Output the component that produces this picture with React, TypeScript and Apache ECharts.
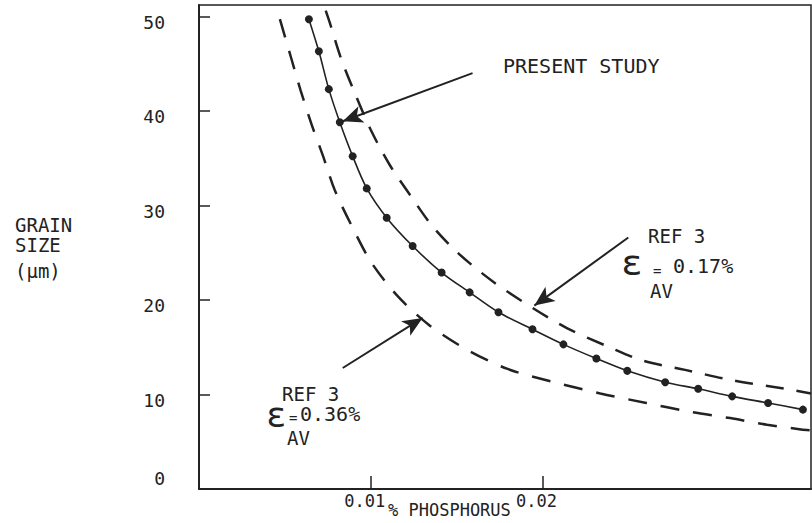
import { useEffect, useRef } from "react";
import * as echarts from "echarts";

const FONT = "DejaVu Sans Mono";
const INK = "#222";

// Axis ticks
const yTicks = [0, 10, 20, 30, 40, 50];
const xTicks = [0.01, 0.02];
const xMax = 0.03564;
const yMax = 51.2;

// PRESENT STUDY (solid line with dots): [% phosphorus, grain size µm]
const presentStudy: [number, number][] = [
  [0.0064, 49.7], [0.00698, 46.3], [0.00756, 42.3], [0.0082, 38.8],
  [0.00895, 35.2], [0.00977, 31.8], [0.01093, 28.7], [0.01244, 25.7],
  [0.01413, 22.9], [0.01576, 20.8], [0.01744, 18.7], [0.01942, 16.9],
  [0.02122, 15.3], [0.02314, 13.8], [0.02494, 12.5], [0.02715, 11.3],
  [0.02907, 10.6], [0.03105, 9.8], [0.03314, 9.1], [0.03517, 8.4],
];

// REF 3, eps_AV = 0.17% (upper dashed)
const ref3Eps017: [number, number][] = [
  [0.00738, 50.6], [0.00762, 49.3], [0.00826, 45.6], [0.00907, 41.9],
  [0.01, 38.0], [0.0111, 34.3], [0.01233, 31.0], [0.01355, 27.9],
  [0.01506, 25.0], [0.01715, 21.9], [0.01948, 19.1], [0.02145, 17.0],
  [0.0239, 15.0], [0.02581, 13.6], [0.02831, 12.6], [0.03105, 11.5],
  [0.03413, 10.6], [0.03564, 10.1],
];

// REF 3, eps_AV = 0.36% (lower dashed)
const ref3Eps036: [number, number][] = [
  [0.00471, 49.7], [0.00535, 45.7], [0.00593, 42.1], [0.00657, 38.5],
  [0.00721, 35.3], [0.00791, 31.6], [0.00907, 27.2], [0.01006, 23.9],
  [0.01157, 20.4], [0.01343, 17.3], [0.01564, 14.7], [0.01797, 12.7],
  [0.02047, 11.4], [0.02337, 10.1], [0.02605, 9.1], [0.02849, 8.2],
  [0.03093, 7.5], [0.03308, 6.8], [0.03506, 6.3], [0.03564, 6.2],
];

// Annotation arrows: [from, to] in data coordinates
const arrowPresent: [[number, number], [number, number]] = [[0.01593, 44.0], [0.00837, 38.9]];
const arrowRef017: [[number, number], [number, number]] = [[0.025, 26.6], [0.01953, 19.4]];
const arrowRef036: [[number, number], [number, number]] = [[0.00837, 12.8], [0.01302, 18.1]];
const arrowList = [arrowPresent, arrowRef017, arrowRef036];

function txt(text: string, x: number, y: number, size: number) {
  return {
    type: "text",
    x,
    y,
    silent: true,
    style: {
      text,
      fill: INK,
      fontFamily: FONT,
      fontSize: size,
      align: "left",
      verticalAlign: "middle",
    },
  };
}

export default function App() {
  const ref = useRef<HTMLDivElement>(null);

  useEffect(() => {
    if (!ref.current) return;
    const chart = echarts.init(ref.current, undefined, { renderer: "svg" });
    chart.setOption({
      animation: false,
      backgroundColor: "#fff",
      grid: {
        left: 199,
        right: 1,
        top: 5,
        bottom: 34,
        show: true,
        borderColor: INK,
        borderWidth: 1.5,
      },
      xAxis: {
        type: "value",
        min: 0,
        max: xMax,
        axisLine: { show: true, lineStyle: { color: INK, width: 2 } },
        axisTick: {
          show: true,
          inside: true,
          length: 13,
          customValues: xTicks,
          lineStyle: { color: INK, width: 1.5 },
        },
        axisLabel: {
          customValues: xTicks,
          formatter: (v: number) => v.toFixed(2),
          fontFamily: FONT,
          fontSize: 17,
          color: INK,
          margin: 3,
          padding: [0, 12, 0, 0],
        },
        splitLine: { show: false },
      },
      yAxis: {
        type: "value",
        min: 0,
        max: yMax,
        axisLine: { show: true, lineStyle: { color: INK, width: 2 } },
        axisTick: {
          show: true,
          inside: true,
          length: 11,
          customValues: yTicks,
          lineStyle: { color: INK, width: 1.5 },
        },
        axisLabel: {
          customValues: yTicks,
          formatter: (v: number) => (v === 0 ? "{z|0}" : `{n|${v}}`),
          fontFamily: FONT,
          fontSize: 18,
          color: INK,
          margin: 34,
          rich: {
            n: { fontFamily: FONT, fontSize: 18, color: INK, padding: [12, 0, 0, 0] },
            z: { fontFamily: FONT, fontSize: 18, color: INK, padding: [0, 0, 22, 0] },
          },
        },
        splitLine: { show: false },
      },
      series: [
        {
          name: "REF 3 0.17%",
          type: "line",
          data: ref3Eps017,
          smooth: 0.3,
          showSymbol: false,
          symbol: "none",
          lineStyle: { color: INK, width: 2.5, type: [18, 13] },
          silent: true,
        },
        {
          name: "REF 3 0.36%",
          type: "line",
          data: ref3Eps036,
          smooth: 0.3,
          showSymbol: false,
          symbol: "none",
          lineStyle: { color: INK, width: 2.5, type: [19, 14] },
          silent: true,
        },
        {
          name: "PRESENT STUDY",
          type: "line",
          data: presentStudy,
          smooth: 0.3,
          symbol: "circle",
          symbolSize: 8,
          itemStyle: { color: INK },
          lineStyle: { color: INK, width: 1.6 },
          silent: true,
          markLine: {
            silent: true,
            symbol: ["none", "arrow"],
            symbolSize: [13, 20],
            label: { show: false },
            lineStyle: { color: INK, width: 2, type: "solid" },
            data: arrowList.map(([a, b]) => [{ coord: a }, { coord: b }]),
          },
        },
      ],
      graphic: [
        txt("PRESENT STUDY", 503, 66, 20),
        txt("REF 3", 648, 236, 19),
        txt("ε", 621, 262, 36),
        txt("=", 653, 271, 14),
        txt("0.17%", 673, 266, 20),
        txt("AV", 650, 291, 19),
        txt("REF 3", 282, 394, 19),
        txt("ε", 266, 415, 34),
        txt("=", 289, 418, 14),
        txt("0.36%", 300, 414, 20),
        txt("AV", 287, 438, 19),
        txt("GRAIN", 15, 225, 19),
        txt("SIZE", 15, 245, 19),
        txt("(μm)", 15, 271, 19),
        txt("% PHOSPHORUS", 388, 510, 17),
      ],
    });
    return () => chart.dispose();
  }, []);

  return (
    <div
      ref={ref}
      style={{ position: "fixed", left: 0, top: 0, width: 812, height: 523, background: "#fff" }}
    />
  );
}
